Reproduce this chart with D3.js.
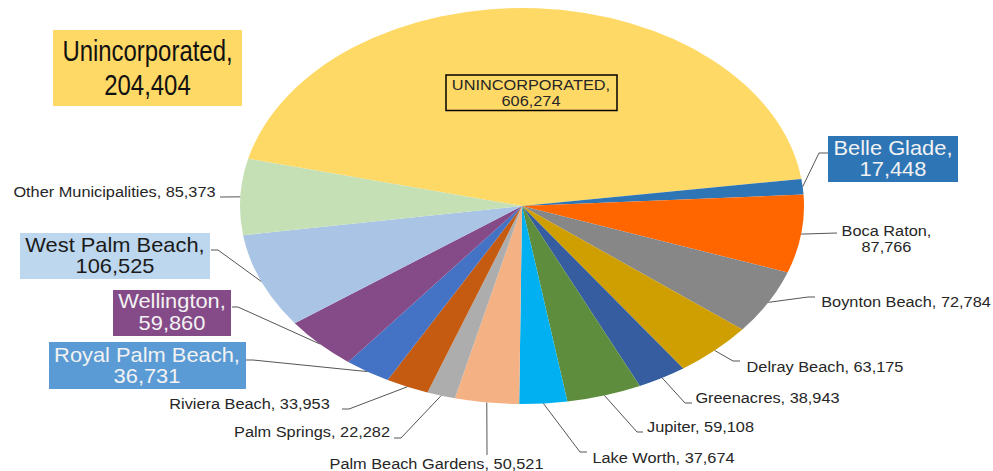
<!DOCTYPE html>
<html>
<head>
<meta charset="utf-8">
<script src="https://cdn.jsdelivr.net/npm/d3@7"></script>
<style>
  html, body { margin: 0; padding: 0; background: #fff; }
  text { font-family: "Liberation Sans", Arial, sans-serif; }
</style>
</head>
<body>
<div id="chart"></div>
<script>
const categories = ["Unincorporated", "Belle Glade", "Boca Raton", "Boynton Beach", "Delray Beach",
  "Greenacres", "Jupiter", "Lake Worth", "Palm Beach Gardens", "Palm Springs", "Riviera Beach",
  "Royal Palm Beach", "Wellington", "West Palm Beach", "Other Municipalities"];
const values = [606274, 17448, 87766, 72784, 63175, 38943, 59108, 37674, 50521, 22282, 33953,
  36731, 59860, 106525, 85373];
const colors = ["#FFD966", "#2E75B6", "#FF6600", "#878787", "#CF9E00", "#355D9F", "#5E8E3D",
  "#00B0F0", "#F4B183", "#ADADAD", "#C55A11", "#4472C4", "#854A88", "#A9C4E4", "#C5E0B4"];

const width = 993;
const height = 471;
const cx = 522, cy = 206, rx = 282, ry = 198;

// the reference text is stretched sideways, this is how much
const wide = 1.165;
const wideBig = 1.04;

// where each label sits: box, text lines with baselines, leader line after the slice edge
const labelLayout = {
  "Belle Glade": { box: [828, 136, 130, 46], fill: "#2E75B6", color: "#f2f2f2", size: 21, stretch: wideBig, x: 893, y: [155, 176], two: true, leader: [[819, 153], [828, 153]] },
  "Boca Raton": { size: 14, color: "#262626", stretch: wide, x: 886.5, y: [236, 252], two: true, leader: [[837, 233]] },
  "Boynton Beach": { size: 14, color: "#262626", stretch: wide, x: 906, y: [307], leader: [[808, 297], [815, 297]] },
  "Delray Beach": { size: 14, color: "#262626", stretch: wide, x: 825, y: [372], leader: [[733, 361], [740, 361]] },
  "Greenacres": { size: 14, color: "#262626", stretch: wide, x: 767.5, y: [403], leader: [[685, 403], [692, 403]] },
  "Jupiter": { size: 14, color: "#262626", stretch: wide, x: 700.5, y: [432], leader: [[637, 432], [643, 432]] },
  "Lake Worth": { size: 14, color: "#262626", stretch: wide, x: 663.5, y: [463], leader: [[580, 452], [587, 452]] },
  "Palm Beach Gardens": { size: 14, color: "#262626", stretch: wide, x: 436.5, y: [468.5], leader: [[487, 455]] },
  "Palm Springs": { size: 14, color: "#262626", stretch: wide, x: 312, y: [437], leader: [[401, 438], [394, 438]] },
  "Riviera Beach": { size: 14, color: "#262626", stretch: wide, x: 249.5, y: [409], leader: [[349, 409], [342, 409]] },
  "Royal Palm Beach": { box: [49, 342, 197, 47], fill: "#5B9BD5", color: "#f2f2f2", size: 21, stretch: wideBig, x: 147, y: [362, 383], two: true, leader: [[253, 360], [246, 360]] },
  "Wellington": { box: [113, 290, 118, 46], fill: "#854A88", color: "#f2f2f2", size: 21, stretch: wideBig, x: 172, y: [308, 330], two: true, leader: [[238, 307], [232, 307]] },
  "West Palm Beach": { box: [20, 233, 190, 46], fill: "#BDD7EE", color: "#1a1a1a", size: 21, stretch: wideBig, x: 115, y: [252, 273], two: true, leader: [[218, 250], [211, 250]] },
  "Other Municipalities": { size: 14, color: "#262626", stretch: wide, x: 114.5, y: [197], leader: [[220, 197]] }
};

const fmt = d3.format(",");

const svg = d3.select("#chart")
  .append("svg")
  .attr("width", width)
  .attr("height", height)
  .style("display", "block");

// middle-anchored text, widened or narrowed with textLength
function addText(t, x, y, size, color, stretch) {
  const el = svg.append("text")
    .attr("x", x)
    .attr("y", y)
    .attr("text-anchor", "middle")
    .attr("font-size", size)
    .attr("fill", color)
    .text(t);
  el.attr("lengthAdjust", "spacingAndGlyphs")
    .attr("textLength", el.node().getComputedTextLength() * stretch);
  return el;
}

const pie = d3.pie()
  .sort(null)
  .startAngle(-76.2 * Math.PI / 180)
  .endAngle((360 - 76.2) * Math.PI / 180);

const arc = d3.arc()
  .innerRadius(0)
  .outerRadius(rx);

const arcs = pie(values);

// the pie is drawn round and squashed into an ellipse
svg.append("g")
  .attr("transform", `translate(${cx},${cy}) scale(1,${ry / rx})`)
  .selectAll("path")
  .data(arcs)
  .enter()
  .append("path")
  .attr("d", arc)
  .attr("fill", (d, i) => colors[i]);

const line = d3.line();

arcs.forEach((d, i) => {
  const name = categories[i];
  const l = labelLayout[name];
  if (!l) return;

  const mid = (d.startAngle + d.endAngle) / 2;
  const start = [cx + rx * Math.sin(mid), cy - ry * Math.cos(mid)];
  svg.append("path")
    .attr("d", line([start, ...l.leader]))
    .attr("fill", "none")
    .attr("stroke", "#555")
    .attr("stroke-width", 1);

  if (l.box) {
    svg.append("rect")
      .attr("x", l.box[0]).attr("y", l.box[1])
      .attr("width", l.box[2]).attr("height", l.box[3])
      .attr("fill", l.fill);
  }

  const lines = l.two ? [name + ",", fmt(values[i])] : [name + ", " + fmt(values[i])];
  lines.forEach((t, j) => addText(t, l.x, l.y[j], l.size, l.color, l.stretch));
});

// label inside the big slice
svg.append("rect")
  .attr("x", 446).attr("y", 75)
  .attr("width", 171).attr("height", 35.5)
  .attr("fill", "none")
  .attr("stroke", "#000")
  .attr("stroke-width", 1.5);
["UNINCORPORATED,", fmt(values[0])].forEach((t, j) => {
  addText(t, 531, 90 + j * 15.5, 14, "#262626", wide);
});

// separate callout top left
const calloutLines = ["Unincorporated,", "204,404"];
svg.append("rect")
  .attr("x", 53).attr("y", 30)
  .attr("width", 189).attr("height", 76)
  .attr("fill", "#FFD966");
calloutLines.forEach((t, j) => {
  addText(t, 147.5, 61 + j * 34, 29, "#111", 0.825);
});
</script>
</body>
</html>
